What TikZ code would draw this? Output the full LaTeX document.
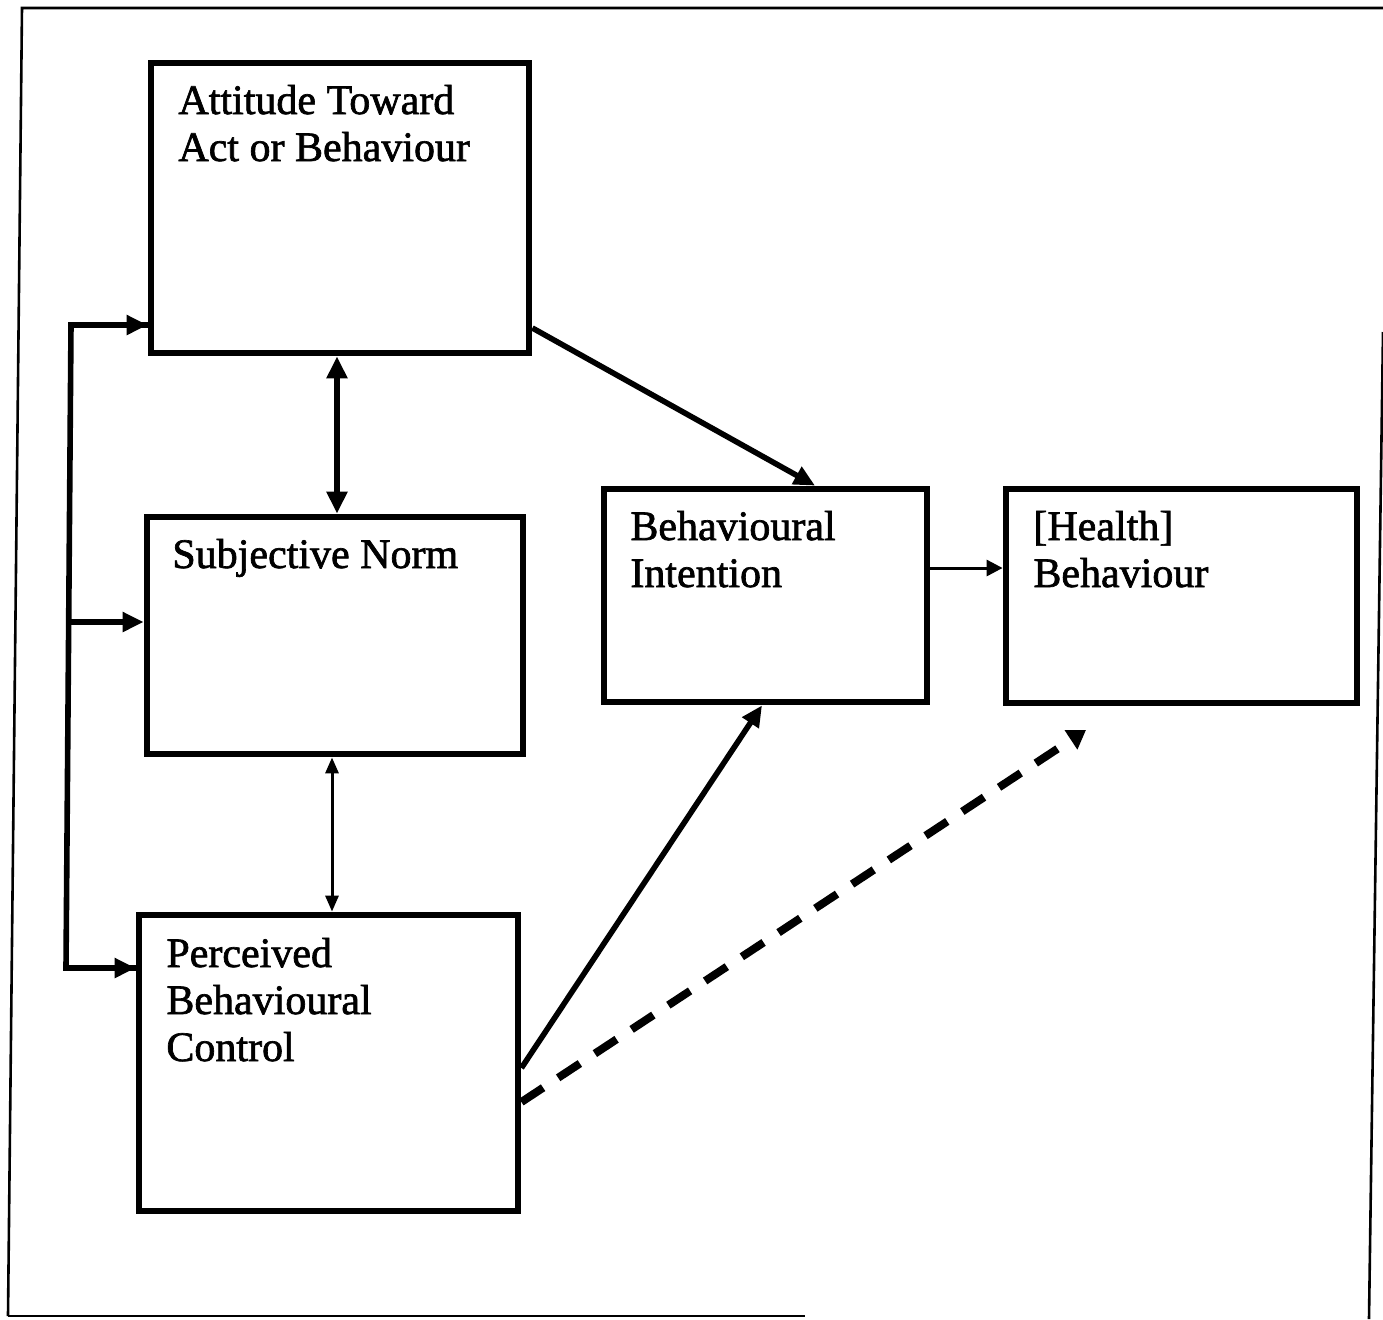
\documentclass[tikz,border=0pt]{standalone}
\usepackage{fontspec}
\setmainfont[UprightFeatures={FakeBold=1.6}]{Liberation Serif}
\usetikzlibrary{arrows.meta}
\begin{document}
\begin{tikzpicture}[x=0.5pt,y=-0.5pt,
  box/.style={draw=black, line width=3.4pt, rectangle, inner sep=0pt},
  txt/.style={font=\fontsize{21pt}{23.5pt}\selectfont, align=left, inner sep=0pt, anchor=base west},
  conn/.style={line width=2.8pt, line cap=rect},
  bigtip/.style={-{Triangle[length=10.5pt,width=9.5pt]}},
  frame/.style={line width=1.3pt}]
\useasboundingbox (0,0) rectangle (1383,1319);
% frame
\draw[frame] (8,1316) -- (22,8) -- (1383,8);
\draw[frame] (8,1316) -- (805,1316);
\draw[frame] (1383,332) -- (1369,1319);
% boxes
\node[box, minimum width=189pt, minimum height=145pt] (att) at (340,208) {};
\node[box, minimum width=188pt, minimum height=118.5pt] (sn) at (335,635.5) {};
\node[box, minimum width=189.5pt, minimum height=148pt] (pbc) at (328.5,1063) {};
\node[box, minimum width=161.5pt, minimum height=106.5pt] (bi) at (765.5,595.5) {};
\node[box, minimum width=175.5pt, minimum height=107pt] (hb) at (1181.5,596) {};
% texts (anchored at the baseline of the last line)
\node[txt] (att-t) at (178,161) {Attitude Toward\\Act or Behaviour};
\node[txt] (sn-t) at (172,568) {Subjective Norm};
\node[txt] (pbc-t) at (166,1061) {Perceived\\Behavioural\\Control};
\node[txt] (bi-t) at (630,587) {Behavioural\\Intention};
\node[txt] (hb-t) at (1033,587) {[Health]\\Behaviour};
% left bus
\coordinate (b1) at (71,325);
\coordinate (b2) at (69,622);
\coordinate (b3) at (66,968);
\draw[conn, line join=miter] (b1 -| att.west) -- (b1) -- (b3) -- (b3 -| pbc.west);
\draw[conn, bigtip, line cap=butt] (b1) -- (b1 -| att.west);
\draw[conn, bigtip, line cap=butt] (b2) -- (b2 -| sn.west);
\draw[conn, bigtip, line cap=butt] (b3) -- (b3 -| pbc.west);
% correlations
\draw[line width=3pt, {Triangle[length=11pt,width=10pt]}-{Triangle[length=11pt,width=10pt]}]
  ([xshift=-1.5pt]att.south) -- ([xshift=1pt]sn.north);
\draw[line width=1.5pt, {Triangle[length=8pt,width=6.5pt]}-{Triangle[length=8pt,width=6.5pt]}]
  ([xshift=-1.5pt]sn.south) -- ([xshift=1.75pt]pbc.north);
% paths to intention
\draw[conn, bigtip, line cap=butt] ([yshift=-60pt]att.east) -- ([xshift=24.75pt]bi.north);
\draw[conn, bigtip, line cap=butt] ([yshift=-2.5pt]pbc.east) -- ([xshift=-1.75pt]bi.south);
\draw[line width=1.5pt, -{Triangle[length=8pt,width=8pt]}] ([yshift=13.75pt]bi.east) -- ([yshift=13.75pt]bi.east -| hb.west);
% dashed direct path
\coordinate (dend) at (1086,730);
\draw[line width=4pt, dash pattern=on 13pt off 9pt, -{Triangle[length=9pt,width=11pt]}] ([yshift=-19.5pt]pbc.east) -- (dend);
\end{tikzpicture}
\end{document}
